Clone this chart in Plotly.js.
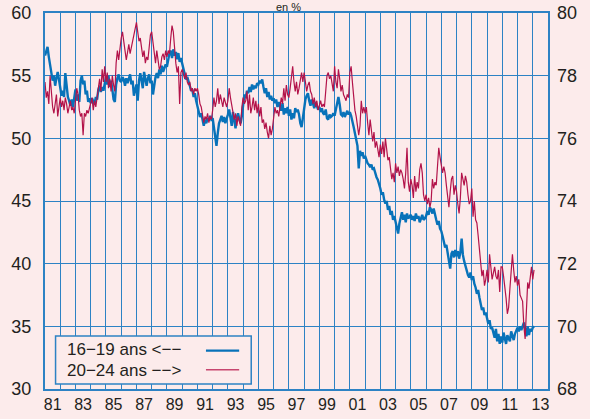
<!DOCTYPE html>
<html>
<head>
<meta charset="utf-8">
<script src="https://cdn.plot.ly/plotly-3.0.1.min.js"></script>
<style>html,body{margin:0;padding:0;background:#fcebeb;}#chart{width:590px;height:419px;}</style>
</head>
<body>
<div id="chart"></div>
<script>
// Monthly series, starting January 1981
var startYear = 1981;
// 16-19 ans (left axis, %)
var age16_19 = [
56.6,56.9,57.3,56.5,55.8,55.2,54.6,55.0,54.2,54.8,55.3,54.7,
54.0,53.4,53.8,53.3,55.2,54.3,53.3,53.0,52.6,53.1,52.5,53.2,
53.9,53.0,53.5,52.9,54.6,55.0,54.3,54.6,53.5,53.8,52.9,53.2,
52.8,53.2,53.0,52.7,53.3,53.1,53.9,54.2,53.7,54.1,53.8,54.4,
54.9,54.3,55.0,54.1,54.6,53.9,53.1,52.9,54.3,54.8,55.1,54.6,
54.5,54.9,54.7,54.2,54.8,54.4,54.9,55.1,54.3,54.6,53.4,53.8,
54.3,53.0,54.6,55.2,54.5,54.0,55.3,54.7,54.2,54.8,55.1,54.4,
54.6,53.5,54.3,54.9,55.2,54.8,55.5,55.1,55.8,55.3,55.6,55.9,
55.7,56.3,56.8,57.0,56.4,57.1,56.6,56.9,56.3,56.8,56.1,56.4,
55.9,55.4,55.0,54.7,54.9,54.4,54.2,53.8,53.9,53.3,53.6,53.0,
52.6,52.1,51.7,52.0,51.3,51.0,51.5,51.2,51.6,51.4,51.8,51.5,
51.6,50.9,50.3,49.4,50.4,51.2,51.5,51.8,51.3,51.7,51.2,51.5,
51.9,52.3,51.4,51.0,52.1,51.6,50.8,51.7,52.0,51.5,51.2,51.8,
52.9,53.5,53.2,53.8,53.6,54.1,53.7,54.3,53.9,54.2,54.0,54.4,
54.3,54.6,54.4,54.7,54.1,53.6,54.0,53.3,53.7,53.1,53.4,53.0,
53.2,52.8,53.1,52.5,52.9,52.6,52.2,52.8,51.9,52.4,52.0,52.5,
51.8,52.3,51.5,52.0,51.6,52.4,52.1,52.3,51.9,51.2,50.9,51.6,
52.6,53.1,53.4,53.6,53.0,52.6,53.1,52.8,52.4,52.9,52.5,52.3,
52.5,52.1,52.4,52.0,51.9,52.3,51.6,51.5,51.9,51.7,51.8,52.0,
51.8,52.4,53.0,53.3,52.7,51.9,51.8,52.1,51.7,51.9,52.2,51.9,
52.1,51.8,51.2,50.9,50.4,49.9,49.4,47.6,49.0,48.6,48.9,48.4,
48.6,48.3,48.0,47.9,47.7,47.9,47.5,47.6,47.2,46.9,46.7,46.4,
46.0,45.5,45.7,45.1,44.8,45.0,44.3,44.6,43.9,44.2,43.5,43.8,
43.4,43.0,42.4,43.2,43.8,44.1,43.5,43.9,43.3,44.0,43.6,43.8,
43.9,43.5,43.8,43.4,44.0,43.6,43.8,43.3,43.7,43.9,43.5,43.6,
43.8,44.2,43.9,44.5,44.3,44.0,44.4,43.8,43.5,43.1,43.4,42.8,
42.6,42.2,41.8,41.3,41.5,40.9,40.4,39.6,40.8,41.0,40.5,41.1,
40.6,41.0,40.4,40.9,42.0,40.7,40.2,39.8,39.5,39.1,38.9,39.3,
38.7,39.0,38.4,38.1,37.6,37.9,37.3,36.8,36.3,36.5,35.9,36.1,
35.7,35.2,35.5,34.8,34.9,34.5,34.1,34.8,33.8,34.4,33.6,34.2,
33.7,34.5,34.0,33.6,34.3,34.1,33.8,34.6,34.2,33.9,34.4,34.7,
34.9,34.6,35.0,34.7,35.1,35.3,34.8,34.2,35.0,34.3,34.8,34.6,
34.9,35.0
];
// 20-24 ans (right axis, %)
var age20_24 = [
77.8,77.3,77.5,77.1,78.0,77.4,77.0,76.8,77.2,77.4,76.7,77.1,
77.3,77.0,77.2,76.9,77.3,77.1,76.8,77.0,77.2,76.9,77.0,76.8,
77.3,77.6,77.4,76.9,76.7,76.8,76.1,76.8,76.7,76.9,76.8,77.0,
77.1,77.3,76.9,77.2,77.0,77.3,77.6,77.9,77.5,78.2,77.8,78.3,
77.8,78.1,77.6,77.9,77.5,78.0,77.7,77.5,78.4,78.8,78.5,78.9,
79.2,79.4,79.0,78.8,78.5,78.7,79.0,78.7,78.9,79.1,79.4,79.6,
79.7,79.4,79.1,79.2,78.9,78.6,78.8,78.4,78.6,78.5,78.9,79.3,
79.4,79.0,78.7,78.4,78.8,78.5,78.2,78.3,78.6,78.7,78.5,78.8,
78.6,78.8,78.7,79.2,79.6,79.4,78.7,78.4,78.1,78.3,77.1,78.1,
78.2,78.0,77.9,78.1,77.8,77.7,77.8,77.5,77.6,77.4,77.6,77.5,
77.6,77.4,77.1,77.0,76.8,76.5,76.7,76.6,76.8,76.5,76.7,76.6,
76.9,77.3,77.0,77.2,77.6,77.1,77.4,77.2,77.0,77.3,77.1,77.0,
77.2,77.6,77.3,77.1,76.9,76.6,76.8,76.4,76.7,76.5,76.4,77.0,
77.3,77.1,77.2,77.5,76.9,77.4,76.8,77.0,77.3,76.9,77.2,76.8,
77.1,76.7,77.0,76.5,76.6,76.3,76.5,76.2,76.0,76.4,76.1,76.3,
76.7,77.0,76.8,76.9,76.7,77.0,77.3,77.1,77.6,77.2,77.7,77.4,
77.3,77.6,77.9,78.3,77.8,77.5,77.8,77.4,77.6,77.9,78.1,77.8,
78.1,77.8,77.5,77.7,77.8,77.5,77.4,77.1,77.3,77.0,77.2,76.9,
77.1,77.2,77.0,77.1,77.0,77.6,78.0,78.1,77.9,78.0,77.7,77.5,
78.3,77.8,77.6,78.2,77.9,77.5,77.7,77.4,77.3,77.2,77.4,77.3,
78.1,78.3,77.8,77.3,76.9,76.7,76.3,76.1,76.4,77.2,76.8,77.0,
76.8,77.0,76.5,76.1,76.6,76.3,75.9,76.2,75.7,75.9,75.6,75.4,
75.8,75.5,75.9,75.4,76.0,75.6,75.3,75.4,75.0,74.7,74.9,74.6,
75.2,74.9,75.1,74.8,75.0,74.9,74.7,74.4,74.9,75.7,74.6,74.3,
74.7,74.5,74.1,74.8,74.3,74.6,74.4,75.0,75.2,74.9,74.2,74.0,
74.2,73.9,74.1,73.8,74.0,74.7,74.4,74.6,74.5,75.3,75.7,75.4,
75.2,74.9,75.1,74.9,74.5,74.1,73.8,74.3,74.7,74.8,74.2,74.5,
74.3,73.9,73.6,74.1,74.9,74.7,74.5,74.8,74.6,74.2,73.9,74.0,
74.4,73.5,74.0,73.4,73.3,72.9,72.4,71.9,71.6,71.8,71.3,71.5,
71.8,71.4,72.3,71.9,71.5,71.7,71.9,71.6,71.5,71.8,71.1,71.9,
71.9,71.6,71.3,70.9,70.4,70.6,71.2,71.7,72.3,71.8,71.4,71.6,
71.3,71.5,71.0,70.9,70.8,70.0,69.6,70.5,71.4,71.2,71.6,71.9,
71.5,71.8
];
var xTickLabels = ['81','83','85','87','89','91','93','95','97','99','01','03','05','07','09','11','13'];
var xTickVals = [1981.5,1983.5,1985.5,1987.5,1989.5,1991.5,1993.5,1995.5,1997.5,1999.5,2001.5,2003.5,2005.5,2007.5,2009.5,2011.5,2013.5];
var seriesNames = ['16\u221219 ans <\u2212\u2212', '20\u221224 ans \u2212\u2212>'];

function monthsX(n){ var a=[]; for(var i=0;i<n;i++){ a.push(startYear + i/12); } return a; }

var BLUE = '#0872b9', RED = '#b3134a', GRID = '#2d82c4', BG = '#fcebeb', TXT = '#231f20';

var traces = [
  {x: monthsX(age16_19.length), y: age16_19, type:'scatter', mode:'lines', name: seriesNames[0],
   line:{color:BLUE, width:2.4}, yaxis:'y'},
  {x: monthsX(age20_24.length), y: age20_24, type:'scatter', mode:'lines', name: seriesNames[1],
   line:{color:RED, width:1.2}, yaxis:'y2'}
];

var lg = {x0:0.021, x1:0.410, y0:0.013, y1:0.141};
var layout = {
  width:590, height:419,
  margin:{l:45, r:42, t:13, b:30, pad:0},
  paper_bgcolor:BG, plot_bgcolor:BG,
  showlegend:false,
  font:{family:'"Liberation Sans", Arial, sans-serif', color:TXT},
  xaxis:{range:[1981,2014], tickmode:'array', tickvals:xTickVals, ticktext:xTickLabels,
    showgrid:false, zeroline:false, ticks:'', tickfont:{size:16, color:TXT},
    showline:true, mirror:true, linecolor:GRID, linewidth:2,
    minor:{tickmode:'linear', tick0:1981, dtick:1, showgrid:true, gridcolor:GRID, gridwidth:1, ticks:''}},
  yaxis:{range:[30,60], tick0:30, dtick:5, showgrid:true, gridcolor:GRID, gridwidth:1,
    zeroline:false, ticks:'', tickfont:{size:18, color:TXT}, ticklabelstandoff:8,
    showline:true, mirror:true, linecolor:GRID, linewidth:2},
  yaxis2:{range:[68,80], tick0:68, dtick:2, overlaying:'y', side:'right', showgrid:false,
    zeroline:false, ticks:'', tickfont:{size:18, color:TXT}, ticklabelstandoff:8, showline:false},
  shapes:[
    {type:'rect', xref:'paper', yref:'paper', x0:lg.x0, x1:lg.x1, y0:lg.y0, y1:lg.y1,
     line:{color:GRID, width:1.5}, fillcolor:BG, layer:'above'},
    {type:'line', xref:'paper', yref:'paper', x0:0.320, x1:0.386, y0:0.102, y1:0.102,
     line:{color:BLUE, width:2.4}, layer:'above'},
    {type:'line', xref:'paper', yref:'paper', x0:0.320, x1:0.386, y0:0.0513, y1:0.0513,
     line:{color:'#c7466f', width:1.4}, layer:'above'}
  ],
  annotations:[
    {text:'en %', xref:'paper', yref:'paper', x:0.485, y:1, xanchor:'center', yanchor:'bottom',
     yshift:-1, showarrow:false, font:{size:11, color:TXT}, borderpad:0},
    {text:seriesNames[0], xref:'paper', yref:'paper', x:0.040, y:0.104, xanchor:'left', yanchor:'middle',
     showarrow:false, font:{size:17, color:TXT}},
    {text:seriesNames[1], xref:'paper', yref:'paper', x:0.040, y:0.0505, xanchor:'left', yanchor:'middle',
     showarrow:false, font:{size:17, color:TXT}}
  ]
};

Plotly.newPlot('chart', traces, layout, {displayModeBar:false, staticPlot:true});
</script>
</body>
</html>
